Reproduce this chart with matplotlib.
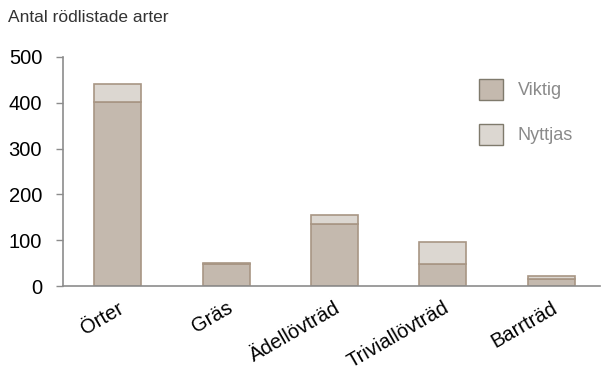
import matplotlib
matplotlib.use("Agg")
import matplotlib.pyplot as plt
from matplotlib.patches import Patch

plt.rcParams['font.family'] = ['Liberation Sans', 'DejaVu Sans']

categories = ["Örter", "Gräs", "Ädellövträd", "Triviallövträd", "Barrträd"]
viktig = [402, 47, 135, 48, 16]
nyttjas = [39, 3, 20, 49, 5]
yticks = [0, 100, 200, 300, 400, 500]

c_viktig = "#c4b9ae"
c_nyttjas = "#dcd7d1"
c_edge = "#a89684"
c_axis = "#8c8c8c"

fig = plt.figure(figsize=(6.01, 3.71), dpi=100)
ax = fig.add_axes([63 / 601, 85 / 371, 537 / 601, 229 / 371])

x = list(range(len(categories)))
w = 0.435
ax.bar(x, viktig, width=w, color=c_viktig, edgecolor=c_edge, linewidth=1.2)
ax.bar(x, nyttjas, width=w, bottom=viktig, color=c_nyttjas, edgecolor=c_edge, linewidth=1.2)

ax.set_ylim(0, 500)
ax.set_xlim(-0.505, 4.45)
ax.set_yticks(yticks)
ax.set_yticklabels([str(v) for v in yticks], fontsize=14.5, color="black")
ax.tick_params(axis='y', length=5, width=1, color=c_axis, pad=10)
ax.tick_params(axis='x', length=0, pad=9)
ax.set_xticks(x)
ax.set_xticklabels(categories, rotation=30, ha='right', va='top',
                   rotation_mode='anchor', fontsize=14.5, color="black")

for s in ["top", "right"]:
    ax.spines[s].set_visible(False)
for s in ["left", "bottom"]:
    ax.spines[s].set_color(c_axis)
    ax.spines[s].set_linewidth(1.2)

handles = [Patch(facecolor=c_viktig, edgecolor="#7f7a6c", label="Viktig"),
           Patch(facecolor=c_nyttjas, edgecolor="#7f7a6c", label="Nyttjas")]
leg = ax.legend(handles=handles, loc="upper left", bbox_to_anchor=(0.775, 0.905),
                frameon=False, fontsize=13, handlelength=1.3, handleheight=1.4,
                labelspacing=1.35, handletextpad=0.85, borderpad=0, borderaxespad=0,
                labelcolor="#8a8a8a")

fig.text(8 / 601, 1 - 18 / 371, "Antal rödlistade arter", fontsize=12.5,
         color="#333333", va="center", ha="left")

fig.savefig("out.png", dpi=100)
